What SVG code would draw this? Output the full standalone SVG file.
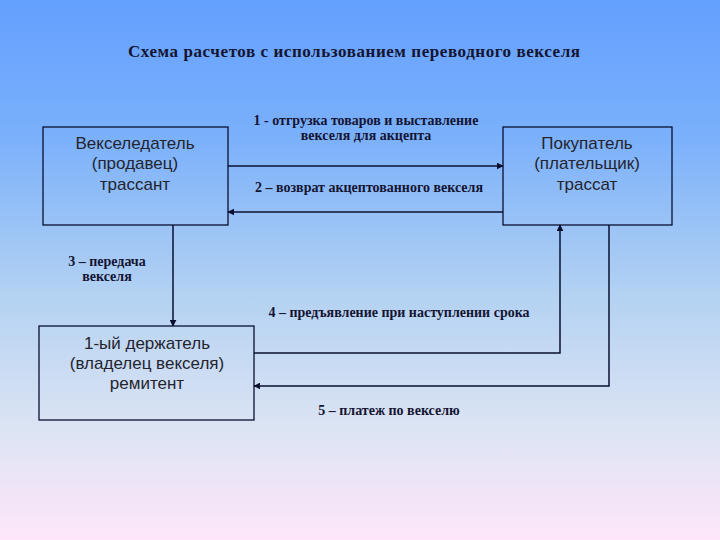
<svg xmlns="http://www.w3.org/2000/svg" width="720" height="540" viewBox="0 0 720 540">
  <defs>
    <linearGradient id="bg" x1="0" y1="0" x2="0" y2="1">
      <stop offset="0" stop-color="#64a0ff"/>
      <stop offset="0.25" stop-color="#7ab0fb"/>
      <stop offset="0.55" stop-color="#b4d2f2"/>
      <stop offset="0.8" stop-color="#dde4f4"/>
      <stop offset="1" stop-color="#ffe6fa"/>
    </linearGradient>
    <marker id="arr" viewBox="0 0 10 10" refX="9" refY="5" markerWidth="7" markerHeight="7" orient="auto" markerUnits="userSpaceOnUse">
      <path d="M0,0 L10,5 L0,10 z" fill="#0a1030"/>
    </marker>
  </defs>
  <style>
    .box { fill: none; stroke: #0a1030; stroke-width: 1.3; }
    .node { font-family: "Liberation Sans", Arial, sans-serif; font-size: 17px; fill: #24242e; text-anchor: middle; }
    .lbl { font-family: "Liberation Serif", "Times New Roman", serif; font-size: 14px; font-weight: bold; fill: #141432; text-anchor: middle; }
    .title { font-family: "Liberation Serif", "Times New Roman", serif; font-size: 17px; font-weight: bold; fill: #141432; text-anchor: middle; }
    .con { fill: none; stroke: #0a1030; stroke-width: 1.5; marker-end: url(#arr); }
  </style>
  <rect x="0" y="0" width="720" height="540" fill="url(#bg)"/>
  <text class="title" x="354" y="57" textLength="452" lengthAdjust="spacing">Схема расчетов с использованием переводного векселя</text>

  <g id="drawer">
    <rect class="box" x="43" y="127" width="185" height="98"/>
    <text class="node" x="135" y="149">Векселедатель</text>
    <text class="node" x="135" y="169">(продавец)</text>
    <text class="node" x="135" y="190">трассант</text>
  </g>
  <g id="drawee">
    <rect class="box" x="503" y="127" width="169" height="98"/>
    <text class="node" x="587" y="149">Покупатель</text>
    <text class="node" x="587" y="169">(плательщик)</text>
    <text class="node" x="587" y="190">трассат</text>
  </g>
  <g id="payee">
    <rect class="box" x="39" y="326" width="215" height="94"/>
    <text class="node" x="147" y="349">1-ый держатель</text>
    <text class="node" x="147" y="369">(владелец векселя)</text>
    <text class="node" x="147" y="389">ремитент</text>
  </g>

  <g id="connectors">
    <path class="con" d="M228,166 L503,166"/>
    <path class="con" d="M503,212 L228,212"/>
    <path class="con" d="M173,225 L173,326"/>
    <path class="con" d="M254,353 L560,353 L560,225"/>
    <path class="con" d="M609,225 L609,386 L254,386"/>
  </g>

  <g id="labels">
    <text class="lbl" x="366" y="125">1 - отгрузка товаров и выставление</text>
    <text class="lbl" x="366" y="140">векселя для акцепта</text>
    <text class="lbl" x="369" y="192">2 – возврат акцептованного векселя</text>
    <text class="lbl" x="107" y="266">3 – передача</text>
    <text class="lbl" x="107" y="281">векселя</text>
    <text class="lbl" x="399" y="317">4 – предъявление при наступлении срока</text>
    <text class="lbl" x="389" y="415">5 – платеж по векселю</text>
  </g>
</svg>
